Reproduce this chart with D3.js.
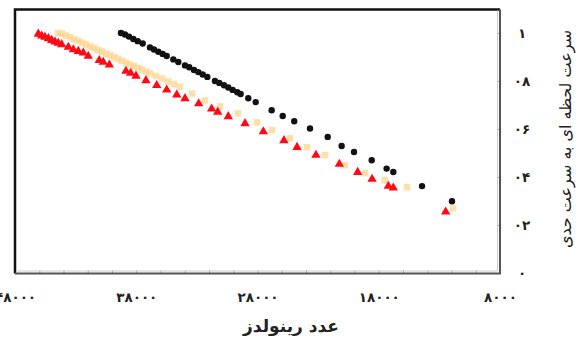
<!DOCTYPE html>
<html>
<head>
<meta charset="utf-8">
<script src="https://cdn.jsdelivr.net/npm/d3@7"></script>
<style>
  html, body { margin: 0; padding: 0; background: #fff; }
  svg { display: block; }
  text { font-family: "DejaVu Sans", sans-serif; }
</style>
</head>
<body>
<svg id="chart" width="584" height="342"></svg>
<script>
// Reynolds number vs. ratio of instantaneous velocity to terminal velocity
const blackRe = [39260, 38930, 38600, 38240, 37880, 37470, 36870, 36540, 36180, 35820, 35490, 34940, 34530, 33980, 33630, 33240, 32880, 32520, 32140, 31510, 31150, 30760, 30410, 30050, 29670, 29390, 28760, 28150, 26830, 25920, 24970, 23670, 22210, 21060, 20040, 18580, 17350, 16800, 14430, 11960];
const blackV  = [1.000, 0.994, 0.985, 0.975, 0.966, 0.956, 0.940, 0.931, 0.922, 0.913, 0.904, 0.890, 0.879, 0.865, 0.857, 0.846, 0.837, 0.827, 0.817, 0.800, 0.792, 0.782, 0.773, 0.763, 0.753, 0.746, 0.728, 0.712, 0.678, 0.654, 0.632, 0.602, 0.567, 0.529, 0.504, 0.470, 0.435, 0.421, 0.362, 0.299];

const redRe = [46080, 45800, 45530, 45250, 44970, 44700, 44430, 44150, 43600, 43190, 42780, 42370, 41960, 41050, 40720, 40220, 38850, 38460, 38020, 37200, 36310, 35490, 34660, 33980, 32850, 31780, 31280, 30410, 29030, 27520, 25820, 24740, 23180, 21250, 19740, 18550, 17210, 16800, 12480];
const redV  = [0.996, 0.988, 0.983, 0.977, 0.970, 0.963, 0.958, 0.952, 0.941, 0.931, 0.924, 0.917, 0.904, 0.886, 0.879, 0.867, 0.841, 0.833, 0.821, 0.802, 0.782, 0.763, 0.742, 0.727, 0.706, 0.684, 0.671, 0.652, 0.623, 0.589, 0.552, 0.524, 0.491, 0.454, 0.420, 0.391, 0.362, 0.355, 0.255];

const orangeRe = [44450, 44120, 43790, 43460, 43130, 42800, 42470, 42140, 41810, 41490, 41160, 40830, 40500, 40170, 39840, 39510, 39180, 38850, 38520, 38190, 37860, 37530, 37200, 36870, 36370, 35880, 35380, 34890, 34390, 33400, 32330, 31090, 29610, 28040, 26800, 25320, 23920, 22430, 20780, 19130, 17490, 15670, 11880];
const orangeV  = [1.000, 0.997, 0.989, 0.982, 0.974, 0.967, 0.959, 0.952, 0.944, 0.937, 0.929, 0.922, 0.914, 0.907, 0.899, 0.892, 0.884, 0.877, 0.869, 0.862, 0.854, 0.847, 0.839, 0.832, 0.821, 0.810, 0.798, 0.787, 0.776, 0.748, 0.719, 0.694, 0.665, 0.628, 0.595, 0.561, 0.524, 0.491, 0.449, 0.416, 0.387, 0.358, 0.270];

const xTicks = [48000, 38000, 28000, 18000, 8000];
const xMinorTicks = d3.range(48000, 7999, -2000);
const yTicks = [0, 0.2, 0.4, 0.6, 0.8, 1];

const xTitle = "عدد رینولدز";
const yTitle = "سرعت لحظه ای به سرعت حدی";

// Persian digits; the leading zero of a decimal is the Persian zero dot
const faDigits = "۰۱۲۳۴۵۶۷۸۹";
const toFa = s => String(s).replace(/[0-9]/g, d => faDigits[+d]);
const toFaDec = v => v === 0 ? "۰" : v === 1 ? "۱" : "۰" + toFa(String(v).split(".")[1]);

const svg = d3.select("#chart");
const plot = { left: 15, right: 500, top: 9.5, bottom: 273.5 };

const x = d3.scaleLinear().domain([48000, 8000]).range([plot.left, plot.right]);
const y = d3.scaleLinear().domain([0, 1.1]).range([273, 9]);

// minor x ticks, pointing inward
svg.append("g")
  .attr("transform", `translate(0,${plot.bottom})`)
  .call(d3.axisBottom(x).tickValues(xMinorTicks).tickSize(-3).tickFormat(""))
  .call(g => g.select(".domain").remove())
  .call(g => g.selectAll("line").attr("stroke", "#999"));

// x labels
svg.append("g")
  .attr("transform", `translate(0,${plot.bottom})`)
  .call(d3.axisBottom(x).tickValues(xTicks).tickSize(0).tickPadding(19).tickFormat(d => toFa(d)))
  .call(g => g.select(".domain").remove())
  .call(g => g.selectAll("text")
    .attr("font-size", 13.5).attr("font-weight", "bold").attr("fill", "#222")
    .attr("font-family", "DejaVu Sans"));

// y axis on the right
svg.append("g")
  .attr("transform", `translate(${plot.right},0)`)
  .call(d3.axisRight(y).tickValues(yTicks).tickSize(-3).tickPadding(22).tickFormat(d => toFaDec(d)))
  .call(g => g.select(".domain").remove())
  .call(g => g.selectAll("line").attr("stroke", "#aaa"))
  .call(g => g.selectAll("text")
    .attr("text-anchor", "middle").attr("font-size", 13.5).attr("font-weight", "bold")
    .attr("fill", "#222").attr("font-family", "DejaVu Sans")
    .attr("letter-spacing", 2));

// series
const sym = (type, size) => d3.symbol().type(type).size(size)();

svg.append("g").selectAll("path")
  .data(d3.zip(orangeRe, orangeV))
  .join("path")
  .attr("d", sym(d3.symbolSquare, 44))
  .attr("transform", d => `translate(${x(d[0])},${y(d[1])})`)
  .attr("fill", "#FFD38A")
  .attr("opacity", 0.7);

svg.append("g").selectAll("path")
  .data(d3.zip(redRe, redV))
  .join("path")
  .attr("d", sym(d3.symbolTriangle, 38))
  .attr("transform", d => `translate(${x(d[0])},${y(d[1])})`)
  .attr("fill", "#FF0A14");

svg.append("g").selectAll("circle")
  .data(d3.zip(blackRe, blackV))
  .join("circle")
  .attr("cx", d => x(d[0]))
  .attr("cy", d => y(d[1]))
  .attr("r", 3.2)
  .attr("fill", "#111");

// frame: dark top/left, grey double edge on right/bottom
const frame = svg.append("g").attr("fill", "none");
frame.append("path")
  .attr("d", `M${plot.left},${plot.bottom} V${plot.top} H${plot.right}`)
  .attr("stroke", "#111").attr("stroke-width", 2.5);
frame.append("path")
  .attr("d", `M${plot.right},${plot.top} V${plot.bottom} H${plot.left}`)
  .attr("stroke", "#555").attr("stroke-width", 2);
frame.append("path")
  .attr("d", `M${plot.right - 2.5},${plot.top + 1} V${plot.bottom - 2.5} H${plot.left + 1}`)
  .attr("stroke", "#ccc").attr("stroke-width", 1);

// titles
svg.append("text")
  .attr("x", 291).attr("y", 332)
  .attr("text-anchor", "middle")
  .attr("font-size", 17).attr("font-weight", "bold").attr("fill", "#222")
  .attr("direction", "rtl")
  .text(xTitle);

svg.append("text")
  .attr("transform", "translate(566,139) rotate(-90)")
  .attr("text-anchor", "middle")
  .attr("dominant-baseline", "middle")
  .attr("font-size", 16).attr("fill", "#222")
  .attr("direction", "rtl")
  .text(yTitle);
</script>
</body>
</html>
